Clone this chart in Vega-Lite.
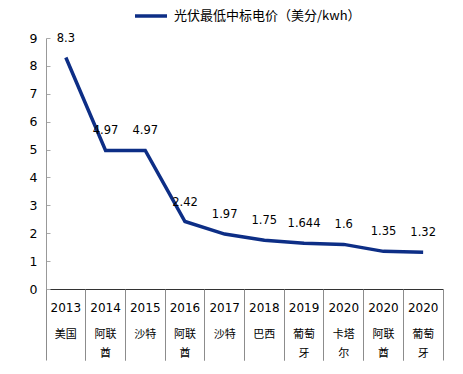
{
  "$schema": "https://vega.github.io/schema/vega-lite/v6.json",
  "width": 397,
  "height": 251,
  "autosize": "none",
  "padding": {"left": 46, "top": 38, "right": 20, "bottom": 85},
  "background": "white",
  "config": {"view": {"stroke": null}, "font": "DejaVu Sans"},
  "data": {"values": [
    {"year": "2013", "country": "美国", "price": 8.3, "series": "光伏最低中标电价（美分/kwh）"},
    {"year": "2014", "country": "阿联酋", "price": 4.97, "series": "光伏最低中标电价（美分/kwh）"},
    {"year": "2015", "country": "沙特", "price": 4.97, "series": "光伏最低中标电价（美分/kwh）"},
    {"year": "2016", "country": "阿联酋", "price": 2.42, "series": "光伏最低中标电价（美分/kwh）"},
    {"year": "2017", "country": "沙特", "price": 1.97, "series": "光伏最低中标电价（美分/kwh）"},
    {"year": "2018", "country": "巴西", "price": 1.75, "series": "光伏最低中标电价（美分/kwh）"},
    {"year": "2019", "country": "葡萄牙", "price": 1.644, "series": "光伏最低中标电价（美分/kwh）"},
    {"year": "2020", "country": "卡塔尔", "price": 1.6, "series": "光伏最低中标电价（美分/kwh）"},
    {"year": "2020", "country": "阿联酋", "price": 1.35, "series": "光伏最低中标电价（美分/kwh）"},
    {"year": "2020", "country": "葡萄牙", "price": 1.32, "series": "光伏最低中标电价（美分/kwh）"}
  ]},
  "transform": [{"calculate": "datum.year + '|' + datum.country", "as": "key"}],
  "resolve": {"axis": {"x": "independent", "y": "independent"}},
  "layer": [
    {
      "mark": {"type": "line", "strokeWidth": 3.5},
      "encoding": {
        "x": {"field": "key", "type": "ordinal", "sort": null,
          "scale": {"type": "band", "paddingInner": 0, "paddingOuter": 0},
          "axis": {"orient": "bottom", "bandPosition": 0, "labels": false, "ticks": true, "tickSize": 71, "tickColor": "#8c8c8c", "tickWidth": 1, "domain": true, "domainColor": "#333333", "domainWidth": 1, "title": null, "grid": false}},
        "y": {"field": "price", "type": "quantitative",
          "scale": {"domain": [0, 9]},
          "axis": {"values": [0, 1, 2, 3, 4, 5, 6, 7, 8, 9], "grid": false, "title": null, "domainColor": "#999999", "tickColor": "#aaaaaa", "tickSize": -4, "labelPadding": 13, "labelFont": "DejaVu Sans", "labelFontSize": 12.5, "labelColor": "black"}},
        "color": {"field": "series", "type": "nominal",
          "scale": {"range": ["#0d2e86"]},
          "legend": {"orient": "none", "legendX": 87, "legendY": -40, "title": null, "symbolType": "stroke", "symbolSize": 1024, "symbolStrokeWidth": 3.5, "labelFont": "Noto Sans CJK SC", "labelFontSize": 13, "labelColor": "black", "labelOffset": 5, "labelLimit": 0}}
      }
    },
    {
      "mark": {"type": "text", "dy": -19, "font": "DejaVu Sans", "fontSize": 11.5, "color": "black"},
      "encoding": {
        "x": {"field": "key", "type": "ordinal", "sort": null,
          "scale": {"type": "band", "paddingInner": 0, "paddingOuter": 0},
          "axis": {"orient": "bottom", "bandPosition": 1, "labels": false, "ticks": true, "tickSize": 71, "tickColor": "#8c8c8c", "tickWidth": 1, "domain": false, "title": null, "grid": false}},
        "y": {"field": "price", "type": "quantitative", "axis": null},
        "text": {"field": "price", "type": "quantitative"}
      }
    },
    {
      "mark": {"type": "point", "opacity": 0},
      "encoding": {
        "x": {"field": "key", "type": "ordinal", "sort": null,
          "scale": {"type": "band", "paddingInner": 0, "paddingOuter": 0},
          "axis": {"orient": "bottom", "ticks": false, "domain": false, "title": null, "grid": false, "labelAngle": 0, "labelOverlap": false, "labelExpr": "split(datum.value, '|')[0]", "labelFont": "DejaVu Sans", "labelFontSize": 12, "labelColor": "black", "labelPadding": 13, "labelBaseline": "top"}},
        "y": {"field": "price", "type": "quantitative", "axis": null}
      }
    },
    {
      "mark": {"type": "point", "opacity": 0},
      "encoding": {
        "x": {"field": "key", "type": "ordinal", "sort": null,
          "scale": {"type": "band", "paddingInner": 0, "paddingOuter": 0},
          "axis": {"orient": "bottom", "ticks": false, "domain": false, "title": null, "grid": false, "labelAngle": 0, "labelOverlap": false, "labelExpr": "[substring(split(datum.value, '|')[1], 0, 2), substring(split(datum.value, '|')[1], 2)]", "labelFont": "Noto Sans CJK SC", "labelFontSize": 11, "labelLineHeight": 19, "labelColor": "black", "labelPadding": 39, "labelBaseline": "top"}},
        "y": {"field": "price", "type": "quantitative", "axis": null}
      }
    }
  ]
}
